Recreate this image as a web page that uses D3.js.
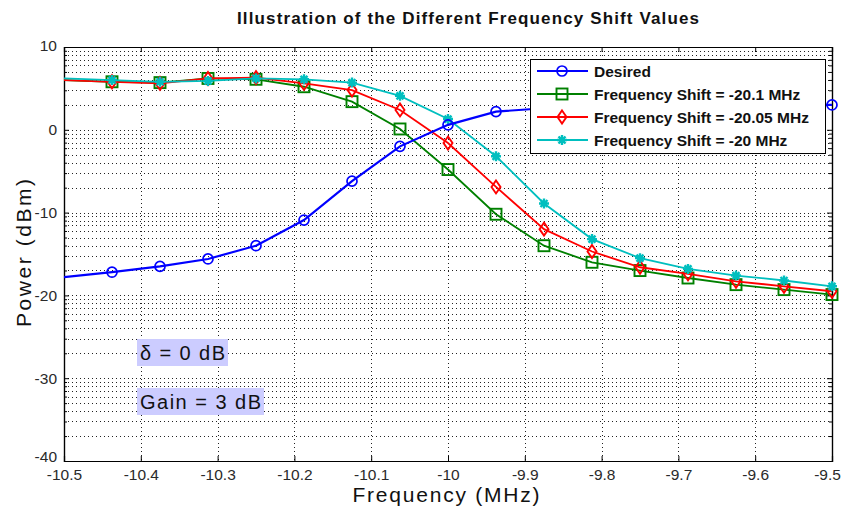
<!DOCTYPE html>
<html>
<head>
<meta charset="utf-8">
<script src="https://cdn.jsdelivr.net/npm/d3@7"></script>
<style>
  body { margin: 0; background: #fff; }
  text { font-family: Arial, "Liberation Sans", sans-serif; }
</style>
</head>
<body>
<svg id="chart" width="843" height="508"></svg>
<script>
// frequency points (MHz)
var freq = [-10.5, -10.4375, -10.375, -10.3125, -10.25, -10.1875, -10.125, -10.0625,
            -10, -9.9375, -9.875, -9.8125, -9.75, -9.6875, -9.625, -9.5625, -9.5];

var desired  = [-17.8, -17.2, -16.5, -15.6, -14.0, -10.9, -6.2, -2.0,
                0.6, 2.2, 2.6, 2.8, 2.9, 3.0, 3.0, 3.0, 3.0];
var shift201 = [6.0, 5.8, 5.7, 6.2, 6.1, 5.2, 3.4, 0.1,
                -4.8, -10.2, -14.0, -16.0, -17.0, -17.9, -18.7, -19.3, -19.9];
var shift2005 = [6.0, 5.8, 5.6, 6.2, 6.3, 5.6, 4.8, 2.4,
                 -1.6, -6.9, -12.0, -14.7, -16.6, -17.4, -18.3, -18.9, -19.5];
var shift20  = [6.2, 6.0, 5.8, 5.9, 6.2, 6.1, 5.7, 4.1,
                1.3, -3.2, -8.9, -13.2, -15.5, -16.8, -17.6, -18.2, -18.9];

var seriesNames = ["Desired", "Frequency Shift = -20.1 MHz",
                   "Frequency Shift = -20.05 MHz", "Frequency Shift = -20 MHz"];
var seriesColors = ["#0000ff", "#008000", "#ff0000", "#00bfbf"];
var seriesMarkers = ["circle", "square", "diamond", "star"];

var x_ticks = [-10.5, -10.4, -10.3, -10.2, -10.1, -10, -9.9, -9.8, -9.7, -9.6, -9.5];
var y_ticks = [-40, -30, -20, -10, 0, 10];

var svg = d3.select("#chart");
var pLeft = 64, pRight = 832, pTop = 47, pBottom = 461;

var xScale = d3.scaleLinear().domain([-10.5, -9.5]).range([pLeft, pRight]);
var yScale = d3.scaleLinear().domain([-40, 10]).range([pBottom, pTop]);

// plain hyphen minus, like the original figure
function fmt(d) { return String(+d.toFixed(1)); }

// minor y positions (log-style spacing inside each decade, as in the original figure)
var minor_y = [];
y_ticks.slice(1).forEach(function(t) {
    for (var k = 2; k <= 9; k++) minor_y.push(t - 10 * (1 - Math.log10(k)));
});

// grid
var grid = svg.append("g").attr("stroke", "#222").attr("stroke-width", 1)
    .attr("stroke-dasharray", "1,3").attr("fill", "none");
grid.selectAll(".gx").data(x_ticks.slice(1, -1)).enter().append("line")
    .attr("x1", function(d) { return Math.round(xScale(d)) + 0.5; })
    .attr("x2", function(d) { return Math.round(xScale(d)) + 0.5; })
    .attr("y1", pTop).attr("y2", pBottom);
grid.selectAll(".gy").data(y_ticks.slice(1, -1).concat(minor_y)).enter().append("line")
    .attr("x1", pLeft).attr("x2", pRight)
    .attr("y1", function(d) { return Math.round(yScale(d)) + 0.5; })
    .attr("y2", function(d) { return Math.round(yScale(d)) + 0.5; });

// axes box and ticks
var xAxis = d3.axisBottom(xScale).tickValues(x_ticks).tickSize(-5).tickPadding(8).tickFormat(fmt);
var gx = svg.append("g").attr("transform", "translate(0," + pBottom + ")").call(xAxis);
svg.append("g").attr("transform", "translate(0," + pTop + ")")
    .call(d3.axisTop(xScale).tickValues(x_ticks).tickSize(-5).tickFormat(""));

var yAxis = d3.axisLeft(yScale).tickValues(y_ticks).tickSize(-5).tickPadding(7).tickFormat(fmt);
var gy = svg.append("g").attr("transform", "translate(" + pLeft + ",0)").call(yAxis);
svg.append("g").attr("transform", "translate(" + pRight + ",0)")
    .call(d3.axisRight(yScale).tickValues(y_ticks).tickSize(-5).tickFormat(""));
svg.append("g").attr("transform", "translate(" + pLeft + ",0)")
    .call(d3.axisLeft(yScale).tickValues(minor_y).tickSize(-3).tickFormat(""));
svg.append("g").attr("transform", "translate(" + pRight + ",0)")
    .call(d3.axisRight(yScale).tickValues(minor_y).tickSize(-3).tickFormat(""));

svg.selectAll(".domain").attr("stroke", "#000").attr("stroke-width", 1.2);
svg.selectAll(".tick line").attr("stroke", "#000");
svg.selectAll(".tick text").attr("font-size", "15.5px").attr("fill", "#2a2a2a")
    .attr("font-family", "Arial, 'Liberation Sans', sans-serif");
gy.selectAll(".tick text").filter(function(d) { return d === -40; }).attr("dy", "0.05em");
gy.selectAll(".tick text").filter(function(d) { return d === 10; }).attr("dy", "0.2em");
gx.selectAll(".tick text").filter(function(d) { return d === -9.5; }).attr("dx", "-5");

// clip for lines
svg.append("clipPath").attr("id", "clip").append("rect")
    .attr("x", pLeft).attr("y", pTop).attr("width", pRight - pLeft).attr("height", pBottom - pTop);

function drawMarker(g, type, color, cx, cy) {
    if (type === "circle") {
        g.append("circle").attr("cx", cx).attr("cy", cy).attr("r", 5)
            .attr("fill", "none").attr("stroke", color).attr("stroke-width", 1.7);
    } else if (type === "square") {
        g.append("rect").attr("x", cx - 5.5).attr("y", cy - 5.5).attr("width", 11).attr("height", 11)
            .attr("fill", "none").attr("stroke", color).attr("stroke-width", 1.9);
    } else if (type === "diamond") {
        g.append("path").attr("d", "M" + cx + "," + (cy - 6.5) + "L" + (cx + 4.5) + "," + cy +
                "L" + cx + "," + (cy + 6.5) + "L" + (cx - 4.5) + "," + cy + "Z")
            .attr("fill", "none").attr("stroke", color).attr("stroke-width", 1.9);
    } else {
        g.append("path").attr("d", "M" + (cx - 5) + "," + cy + "H" + (cx + 5) +
                "M" + cx + "," + (cy - 5) + "V" + (cy + 5) +
                "M" + (cx - 3.5) + "," + (cy - 3.5) + "L" + (cx + 3.5) + "," + (cy + 3.5) +
                "M" + (cx + 3.5) + "," + (cy - 3.5) + "L" + (cx - 3.5) + "," + (cy + 3.5))
            .attr("stroke", color).attr("stroke-width", 2.4);
    }
}

var allSeries = [desired, shift201, shift2005, shift20];
var line = d3.line().x(function(d, i) { return xScale(freq[i]); }).y(function(d) { return yScale(d); });

[1, 2, 3, 0].forEach(function(s) {
    var vals = allSeries[s];
    var g = svg.append("g");
    g.append("path").datum(vals).attr("d", line).attr("clip-path", "url(#clip)")
        .attr("fill", "none").attr("stroke", seriesColors[s])
        .attr("stroke-width", s === 0 ? 2.2 : 1.8);
    vals.forEach(function(v, i) {
        if (i === 0) return; // point at the left edge is hidden behind the axis
        drawMarker(g, seriesMarkers[s], seriesColors[s], xScale(freq[i]), yScale(v));
    });
});

// legend
var legend = svg.append("g");
legend.append("rect").attr("x", 530.5).attr("y", 59.5).attr("width", 295).attr("height", 94)
    .attr("fill", "#fff").attr("stroke", "#000").attr("stroke-width", 1);
seriesNames.forEach(function(name, i) {
    var ly = 71 + i * 23;
    legend.append("line").attr("x1", 537).attr("x2", 588).attr("y1", ly).attr("y2", ly)
        .attr("stroke", seriesColors[i]).attr("stroke-width", 2);
    drawMarker(legend, seriesMarkers[i], seriesColors[i], 562, ly);
    legend.append("text").attr("x", 594).attr("y", ly + 5.5)
        .attr("font-size", "15.5px").attr("font-weight", "bold").attr("fill", "#111")
        .text(name);
});

// annotations
function note(x, y, w, h, txt, len) {
    svg.append("rect").attr("x", x).attr("y", y).attr("width", w).attr("height", h).attr("fill", "#ccccff");
    svg.append("text").attr("x", x + 3).attr("y", y + h - 6).attr("font-size", "20px")
        .attr("textLength", len).attr("lengthAdjust", "spacing")
        .attr("fill", "#111").text(txt);
}
note(137, 339, 91, 27, "\u03b4 = 0 dB", 85);
note(137, 388, 127, 27, "Gain = 3 dB", 121);

// titles
svg.append("text").attr("x", 468).attr("y", 24).attr("text-anchor", "middle")
    .attr("font-family", "'DejaVu Sans', sans-serif").attr("font-size", "17px")
    .attr("font-weight", "bold").attr("fill", "#111")
    .attr("textLength", 462).attr("lengthAdjust", "spacing")
    .text("Illustration of the Different Frequency Shift Values");

svg.append("text").attr("x", 446).attr("y", 502).attr("text-anchor", "middle")
    .attr("font-size", "21px").attr("fill", "#111")
    .attr("textLength", 187).attr("lengthAdjust", "spacing")
    .text("Frequency (MHz)");

svg.append("text").attr("transform", "translate(31,253) rotate(-90)").attr("text-anchor", "middle")
    .attr("font-size", "21px").attr("fill", "#111")
    .attr("textLength", 148).attr("lengthAdjust", "spacing")
    .text("Power (dBm)");
</script>
</body>
</html>
